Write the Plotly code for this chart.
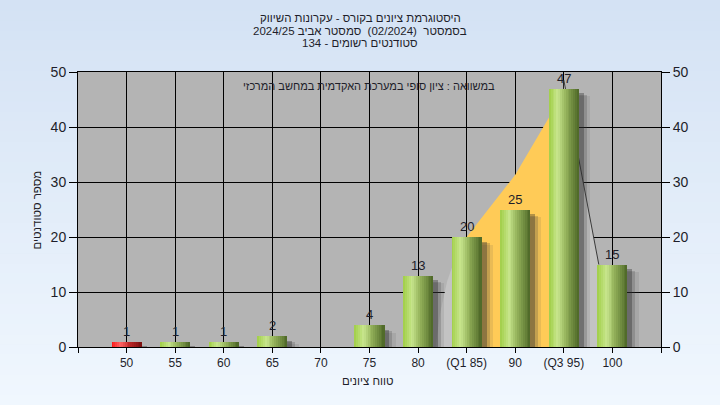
import plotly.graph_objects as go

# ---------------- data ----------------
categories = ["50", "55", "60", "65", "70", "75", "80", "(Q1 85)", "90", "(Q3 95)", "100"]
counts = [1, 1, 1, 2, 0, 4, 13, 20, 25, 47, 15]
bar_kind = ["red", "green", "green", "green", "green", "green", "green", "green", "green", "green", "green"]
y_ticks = [0, 10, 20, 30, 40, 50]

# overlay areas (in category-index units)
q_area_x = [8, 9, 9.7, 10, 10, 8]
q_area_y = [20, 31.3, 41.8, 47, 0, 0]
left_tail_x = [7.36, 7.45, 7.6, 7.8, 8, 8]
left_tail_y = [0, 6, 12, 17, 20, 0]
right_tail_x = [10, 10.72, 10.72, 10]
right_tail_y = [48.5, 15, 0, 0]

title_lines = [
    "היסטוגרמת ציונים בקורס - עקרונות השיווק",
    "\u202bבסמסטר  (02/2024)  סמסטר אביב 2024/25\u202c",
    "סטודנטים רשומים - 134",
]
note_text = "במשוואה : ציון סופי במערכת האקדמית במחשב המרכזי"
x_title = "טווח ציונים"
y_title = "מספר סטודנטים"

# ---------------- style ----------------
FONT = "Liberation Sans Narrow, Liberation Sans, Arial, sans-serif"
TXT = "#1e1e2a"
W, H = 720, 405
ML, MR, MT, MB = 78, 59, 72, 58
PW, PH = W - ML - MR, H - MT - MB
BAR_W = 0.62
N_STRIPS = 16

green_stops = [(0.0, (160, 206, 70)), (0.3, (200, 230, 142)), (0.55, (150, 180, 92)), (1.0, (76, 102, 38))]
red_stops = [(0.0, (250, 20, 20)), (0.3, (255, 100, 100)), (0.6, (190, 40, 40)), (1.0, (120, 14, 14))]


def grad(stops, t):
    for (t0, c0), (t1, c1) in zip(stops[:-1], stops[1:]):
        if t <= t1:
            f = (t - t0) / (t1 - t0) if t1 > t0 else 0
            c = [round(a + (b - a) * f) for a, b in zip(c0, c1)]
            return "rgb(%d,%d,%d)" % tuple(c)
    return "rgb(%d,%d,%d)" % stops[-1][1]


def path_from(xs, ys):
    return "M " + " L ".join("%g,%g" % (a, b) for a, b in zip(xs, ys)) + " Z"


positions = list(range(1, len(categories) + 1))

fig = go.Figure()

# shadows (soft, right/below of each bar)
for off, wd, drop, col in [(-0.22, 0.76, 1.4, "rgba(70,70,70,0.12)"),
                           (-0.24, 0.71, 1.1, "rgba(60,60,60,0.22)"),
                           (-0.26, 0.67, 0.9, "rgba(40,40,40,0.35)")]:
    fig.add_trace(go.Bar(x=positions, y=[max(c - drop, 0) for c in counts], width=wd, offset=off,
                         marker=dict(color=col, line=dict(width=0)), hoverinfo="skip", showlegend=False))

# bars made of gradient strips
sw = BAR_W / N_STRIPS
for kind, stops in [("red", red_stops), ("green", green_stops)]:
    xs = [p for p, k in zip(positions, bar_kind) if k == kind]
    ys = [c for c, k in zip(counts, bar_kind) if k == kind]
    for i in range(N_STRIPS):
        t = (i + 0.5) / N_STRIPS
        w = sw * (1.3 if i < N_STRIPS - 1 else 1.0)
        fig.add_trace(go.Bar(x=xs, y=ys, width=w, offset=-BAR_W / 2 + i * sw,
                             marker=dict(color=grad(stops, t), line=dict(width=0)),
                             hoverinfo="skip", showlegend=False))

# dummy for right axis
fig.add_trace(go.Scatter(x=[None], y=[None], yaxis="y2", showlegend=False, hoverinfo="skip"))

# background gradient bands + plot area
shapes = []
NB = 40
top_c, bot_c = (212, 226, 244), (240, 247, 254)
x0p, x1p = -ML / PW, 1 + MR / PW
ytop, ybot = 1 + MT / PH, -MB / PH
for i in range(NB):
    f = i / (NB - 1)
    c = tuple(round(a + (b - a) * f) for a, b in zip(top_c, bot_c))
    ya = ytop - (ytop - ybot) * i / NB
    yb = ytop - (ytop - ybot) * (i + 1) / NB - 0.002
    shapes.append(dict(type="rect", xref="paper", yref="paper", x0=x0p, x1=x1p, y0=yb, y1=ya,
                       fillcolor="rgb(%d,%d,%d)" % c, line=dict(width=0), layer="below"))
shapes.append(dict(type="rect", xref="paper", yref="paper", x0=0, x1=1, y0=0, y1=1,
                   fillcolor="#b4b4b4", line=dict(width=0), layer="below"))

# distribution areas (between gridlines and bars)
shapes.append(dict(type="path", xref="x", yref="y", path=path_from(left_tail_x, left_tail_y),
                   fillcolor="#c3c3c3", line=dict(width=0), layer="between"))
shapes.append(dict(type="path", xref="x", yref="y", path=path_from(right_tail_x, right_tail_y),
                   fillcolor="#c3c3c3", line=dict(width=0), layer="between"))
shapes.append(dict(type="line", xref="x", yref="y", x0=right_tail_x[0], y0=right_tail_y[0],
                   x1=right_tail_x[1], y1=right_tail_y[1], line=dict(color="#3a3a3a", width=1), layer="between"))
shapes.append(dict(type="path", xref="x", yref="y", path=path_from(q_area_x, q_area_y),
                   fillcolor="#ffcb57", line=dict(width=0), layer="between"))

ann = []
# value labels above bars
for p, c in zip(positions, counts):
    if c > 0:
        ann.append(dict(text=str(c), x=p, y=c, xref="x", yref="y", showarrow=False,
                        xanchor="center", yanchor="bottom", yshift=1,
                        font=dict(family=FONT, size=13, color=TXT)))
for txt, py in zip(title_lines, [18, 31, 43]):
    ann.append(dict(text=txt, xref="paper", yref="paper", x=(360 - ML) / PW, y=(H - MB - py) / PH,
                    showarrow=False, xanchor="center", yanchor="middle",
                    font=dict(family=FONT, size=11.5, color=TXT)))
ann.append(dict(text=note_text, xref="paper", yref="paper", x=(369 - ML) / PW, y=(H - MB - 86) / PH,
                showarrow=False, xanchor="center", yanchor="middle", font=dict(family=FONT, size=11, color=TXT)))
ann.append(dict(text=x_title, xref="paper", yref="paper", x=(368 - ML) / PW, y=(H - MB - 381) / PH,
                showarrow=False, xanchor="center", yanchor="middle", font=dict(family=FONT, size=11.5, color=TXT)))
ann.append(dict(text=y_title, xref="paper", yref="paper", x=(36 - ML) / PW, y=0.5, textangle=-90,
                showarrow=False, xanchor="center", yanchor="middle", font=dict(family=FONT, size=11.5, color=TXT)))

axis_common = dict(showline=True, linecolor="black", linewidth=1, ticks="outside", tickcolor="black",
                   zeroline=False)

fig.update_layout(
    width=W, height=H, margin=dict(l=ML, r=MR, t=MT, b=MB),
    paper_bgcolor="rgb(%d,%d,%d)" % top_c, plot_bgcolor="rgba(0,0,0,0)",
    barmode="overlay", bargap=0, showlegend=False,
    shapes=shapes, annotations=ann,
    xaxis=dict(range=[0, 12], tickvals=[0] + positions + [12], ticktext=[""] + categories + [""],
               showgrid=True, gridcolor="black", gridwidth=1, ticklen=5, mirror=True,
               tickfont=dict(family=FONT, size=12, color=TXT), **axis_common),
    yaxis=dict(range=[0, 50], tickvals=y_ticks, showgrid=True, gridcolor="black", gridwidth=1,
               ticklen=8, mirror=True, tickfont=dict(family=FONT, size=14, color=TXT), **axis_common),
    yaxis2=dict(range=[0, 50], tickvals=y_ticks, overlaying="y", side="right", showgrid=False,
                ticklen=8, tickfont=dict(family=FONT, size=14, color=TXT), **axis_common),
)

fig.write_html("out.html", config={"displayModeBar": False},
               post_script="document.body.style.margin='0';document.body.style.overflow='hidden';")
